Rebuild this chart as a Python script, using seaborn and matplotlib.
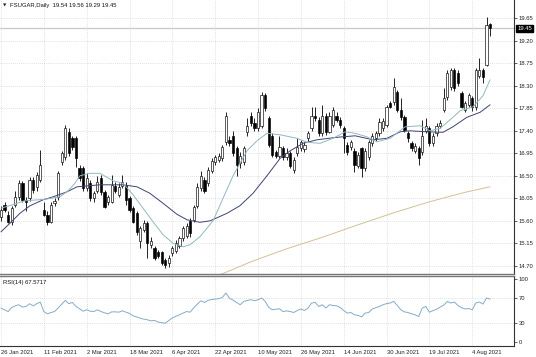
import numpy as np
import pandas as pd
import matplotlib
matplotlib.use('Agg')
import matplotlib.pyplot as plt
import matplotlib.transforms as mtransforms
import seaborn as sns

# header texts
symbol_text = 'FSUGAR,Daily  19.54 19.56 19.29 19.45'
rsi_text = 'RSI(14) 67.5717'
last_price = 19.45

# daily candles, bar 0 = 26 Jan 2021
opens = [15.68, 15.92, 15.72, 15.58, 15.92, 16.07, 16.35, 16.02, 16.05, 16.42,
         16.28, 16.42, 15.82, 15.72, 15.58, 15.95, 16.07, 16.78, 16.87, 17.38,
         17.25, 17.25, 16.65, 16.65, 16.25, 16.35, 16.05, 16.20, 16.45, 16.17,
         15.97, 15.98, 16.30, 16.12, 16.30, 16.32, 16.05, 15.85, 15.75, 15.20,
         15.42, 15.55, 15.12, 15.05, 14.98, 14.97, 14.82, 14.75, 14.95, 15.00,
         15.10, 15.25, 15.30, 15.60, 15.62, 15.90, 16.26, 16.42, 16.35, 16.60,
         16.78, 16.82, 16.85, 17.18, 17.22, 17.30, 17.05, 16.75, 16.78, 17.38,
         17.70, 17.55, 17.45, 17.50, 18.12, 17.65, 17.30, 16.97, 16.90, 17.05,
         16.88, 16.95, 16.62, 16.95, 17.05, 17.03, 17.25, 17.45, 17.70, 17.62,
         17.35, 17.70, 17.38, 17.52, 17.70, 17.62, 17.45, 17.12, 17.08, 17.00,
         16.70, 17.05, 16.65, 16.88, 17.15, 17.25, 17.35, 17.45, 17.52, 17.95,
         17.97, 18.17, 17.82, 17.68, 17.35, 17.15, 17.00, 17.05, 16.98, 17.40,
         17.45, 17.15, 17.35, 17.50, 17.82, 18.08, 18.28, 18.62, 18.55, 18.15,
         17.82, 17.92, 18.05, 17.88, 18.50, 18.62, 18.72, 19.54]
highs = [15.90, 15.98, 15.80, 15.90, 16.20, 16.42, 16.40, 16.08, 16.48, 16.48,
         16.57, 17.02, 15.98, 15.80, 15.98, 16.05, 16.60, 17.00, 17.52, 17.45,
         17.30, 17.30, 16.72, 16.70, 16.55, 16.42, 16.20, 16.50, 16.52, 16.22,
         16.12, 16.52, 16.38, 16.35, 16.52, 16.38, 16.10, 15.90, 15.80, 15.50,
         15.62, 15.60, 15.28, 15.10, 15.02, 15.00, 14.85, 14.92, 15.10, 15.22,
         15.30, 15.50, 15.55, 15.65, 15.92, 16.35, 16.60, 16.48, 16.68, 16.85,
         16.92, 16.95, 17.12, 17.78, 17.30, 17.40, 17.10, 16.98, 17.10, 17.65,
         17.78, 17.65, 17.85, 18.18, 18.15, 17.70, 17.35, 17.02, 17.30, 17.10,
         17.05, 17.00, 16.88, 17.25, 17.22, 17.18, 17.40, 17.88, 17.88, 17.68,
         17.92, 17.75, 17.78, 17.88, 17.78, 17.68, 17.50, 17.18, 17.22, 17.05,
         16.98, 17.08, 17.05, 17.22, 17.35, 17.40, 17.65, 17.65, 17.92, 18.00,
         18.45, 18.22, 18.05, 17.72, 17.40, 17.20, 17.15, 17.10, 17.62, 17.65,
         17.50, 17.35, 17.55, 17.62, 18.25, 18.62, 18.65, 18.65, 18.62, 18.20,
         18.00, 18.15, 18.10, 18.65, 18.85, 18.66, 19.68, 19.56]
lows = [15.60, 15.78, 15.55, 15.52, 15.88, 16.02, 15.98, 15.80, 16.00, 16.15,
        16.20, 16.38, 15.70, 15.52, 15.55, 15.90, 16.02, 16.72, 16.82, 16.90,
        17.02, 16.68, 16.40, 16.20, 16.20, 16.00, 15.98, 16.15, 16.12, 15.85,
        15.92, 15.95, 16.15, 16.08, 16.25, 15.92, 15.78, 15.55, 15.32, 15.05,
        15.38, 14.85, 15.05, 14.82, 14.85, 14.72, 14.65, 14.68, 14.90, 14.95,
        15.05, 15.20, 15.25, 15.28, 15.58, 15.85, 16.20, 16.15, 16.30, 16.55,
        16.72, 16.78, 16.80, 17.12, 17.10, 16.90, 16.50, 16.65, 16.72, 17.30,
        17.50, 17.40, 17.40, 17.45, 17.80, 17.08, 16.88, 16.85, 16.85, 16.82,
        16.82, 16.65, 16.55, 16.90, 17.00, 16.98, 17.20, 17.40, 17.60, 17.30,
        17.30, 17.32, 17.35, 17.48, 17.58, 17.45, 16.95, 16.92, 17.02, 16.58,
        16.65, 16.48, 16.60, 16.82, 17.10, 17.20, 17.30, 17.40, 17.48, 17.85,
        17.92, 17.78, 17.62, 17.38, 17.18, 17.00, 16.95, 16.72, 16.92, 17.35,
        17.10, 17.10, 17.30, 17.45, 17.78, 18.02, 18.22, 18.20, 18.30, 17.85,
        17.78, 17.88, 17.80, 17.82, 18.45, 18.35, 18.70, 19.29]
closes = [15.82, 15.82, 15.58, 15.85, 16.07, 16.35, 16.02, 15.98, 16.42, 16.22,
          16.52, 16.72, 15.72, 15.58, 15.92, 16.00, 16.55, 16.95, 17.45, 16.95,
          17.07, 16.85, 16.45, 16.25, 16.45, 16.05, 16.15, 16.38, 16.17, 15.88,
          16.07, 16.32, 16.20, 16.28, 16.38, 16.02, 15.82, 15.58, 15.37, 15.45,
          15.55, 15.15, 15.20, 14.85, 14.90, 14.75, 14.72, 14.85, 15.05, 15.15,
          15.25, 15.45, 15.50, 15.35, 15.88, 16.28, 16.50, 16.20, 16.62, 16.80,
          16.88, 16.90, 17.08, 17.70, 17.15, 16.95, 16.72, 16.90, 17.05, 17.50,
          17.55, 17.45, 17.78, 18.12, 17.85, 17.12, 16.92, 16.90, 17.07, 16.88,
          16.95, 16.70, 16.82, 17.07, 17.17, 17.12, 17.35, 17.70, 17.65, 17.35,
          17.70, 17.38, 17.70, 17.82, 17.62, 17.52, 17.25, 16.98, 17.18, 16.72,
          16.92, 16.65, 17.00, 17.18, 17.30, 17.35, 17.58, 17.60, 17.88, 17.88,
          18.27, 17.82, 17.68, 17.42, 17.25, 17.05, 17.10, 16.85, 17.30, 17.50,
          17.15, 17.30, 17.50, 17.55, 18.05, 18.55, 18.62, 18.25, 18.35, 17.88,
          17.95, 18.12, 17.88, 18.62, 18.62, 18.48, 19.52, 19.45]

# moving averages, read at sample bars
fast_ma_bar = [0, 6.7, 12.3, 16.5, 18.8, 20.7, 22.1, 24.9, 27.7, 31.4, 34.2, 37, 39.8,
               42.6, 45.4, 48.2, 51, 52.9, 55.7, 59.4, 62.2, 65, 68.9, 71.7, 74.5,
               78.2, 82.9, 85.7, 89.4, 93, 96.4, 99.2, 102.5, 105.3, 109, 113.2,
               117.4, 120.2, 123, 125.8, 128.6, 132.2, 135, 137]
fast_ma_val = [15.85, 16.0, 16.03, 16.08, 16.2, 16.35, 16.5, 16.55, 16.55, 16.4, 16.35,
               16.12, 15.85, 15.58, 15.32, 15.15, 15.08, 15.12, 15.28, 15.6, 16.05,
               16.5, 17.0, 17.2, 17.35, 17.32, 17.25, 17.17, 17.15, 17.25, 17.38,
               17.35, 17.28, 17.18, 17.25, 17.48, 17.5, 17.4, 17.45, 17.62, 17.8,
               17.88, 18.1, 18.42]
slow_ma_bar = [0, 2.5, 5.3, 8.1, 11.8, 14.6, 18.5, 21.3, 27.7, 34.2, 38.1, 41.7, 45.4,
               49.3, 52.1, 55.7, 58.6, 63.3, 66.9, 70.6, 74.5, 78.2, 81, 84.6, 88.5,
               94.1, 99.2, 104.2, 108.1, 111.8, 114.6, 119.3, 123.8, 126.6, 130.5,
               134.2, 137]
slow_ma_val = [15.38, 15.55, 15.75, 15.9, 16.02, 16.08, 16.18, 16.28, 16.32, 16.32,
               16.28, 16.15, 15.95, 15.73, 15.62, 15.57, 15.6, 15.75, 15.9, 16.15,
               16.5, 16.85, 17.0, 17.15, 17.22, 17.27, 17.3, 17.22, 17.25, 17.38,
               17.4, 17.38, 17.37, 17.48, 17.67, 17.77, 17.92]
ma200_bar = [58, 60, 70, 80, 90, 100, 110, 120, 130, 137]
ma200_val = [14.36, 14.48, 14.78, 15.04, 15.27, 15.52, 15.76, 15.98, 16.17, 16.28]

rsi_vals = [53.5, 50.8, 48.0, 54.5, 57.0, 58.7, 55.0, 56.0, 60.3, 57.0,
            60.3, 63.0, 48.0, 44.4, 46.5, 48.0, 53.5, 59.5, 65.6, 60.3,
            62.4, 56.0, 52.5, 48.5, 50.8, 48.5, 48.0, 50.8, 48.0, 46.0,
            44.4, 47.5, 47.5, 47.0, 49.2, 47.0, 45.0, 41.3, 39.5, 37.5,
            36.0, 35.0, 33.3, 34.0, 31.5, 30.5, 29.6, 33.8, 38.0, 40.5,
            43.0, 45.5, 48.0, 47.0, 54.0, 59.8, 65.0, 62.4, 65.6, 67.0,
            67.7, 68.3, 70.0, 77.3, 69.0, 66.0, 62.4, 58.7, 64.0, 65.5,
            66.7, 65.0, 66.5, 69.4, 64.0, 54.5, 51.0, 51.5, 52.4, 48.0,
            49.0, 48.0, 46.5, 49.7, 52.0, 49.7, 53.5, 61.4, 62.4, 56.0,
            58.7, 53.5, 58.7, 57.5, 57.0, 54.5, 49.7, 45.5, 46.5, 42.9,
            42.0, 39.5, 45.5, 46.5, 52.0, 54.0, 56.0, 58.7, 60.5, 61.4,
            64.0, 57.6, 50.8, 47.5, 46.5, 44.4, 42.9, 40.2, 53.5, 56.0,
            47.0, 49.5, 51.5, 55.0, 58.0, 64.0, 61.4, 63.0, 57.6, 54.0,
            52.0, 52.9, 50.8, 61.4, 63.0, 59.8, 69.4, 67.57]

date_bars = [0, 12, 24, 36, 48, 60, 72, 84, 96, 108, 120, 132]
date_labels = ['26 Jan 2021', '11 Feb 2021', '2 Mar 2021', '18 Mar 2021', '6 Apr 2021',
               '22 Apr 2021', '10 May 2021', '26 May 2021', '14 Jun 2021', '30 Jun 2021',
               '19 Jul 2021', '4 Aug 2021']
price_ticks = [14.70, 15.15, 15.60, 16.05, 16.50, 16.95, 17.40, 17.85, 18.30, 18.75, 19.20, 19.65]
rsi_ticks = [0, 30, 70, 100]
rsi_levels = [30, 70]

sns.set_style('white')
plt.rcParams['font.family'] = ['Liberation Sans', 'DejaVu Sans']
FS = 4.2
GRID = dict(color='#c4c4c4', lw=0.5, linestyle=(0, (1, 2)), zorder=0)

df = pd.DataFrame({'open': opens, 'high': highs, 'low': lows, 'close': closes})
df['bar'] = np.arange(len(df))
up = df['close'] >= df['open']

fig = plt.figure(figsize=(5.36, 3.57), dpi=100)
W, H = 536.0, 357.0
ax = fig.add_axes([0, 1 - 274 / H, 514 / W, 274 / H])
ax_rsi = fig.add_axes([0, 1 - 346 / H, 514 / W, 70.5 / H])

xlim = (-0.28, 143.7)

# ---- price panel
for b in date_bars:
    ax.axvline(b, **GRID)
for p in price_ticks:
    ax.axhline(p, **GRID)
ax.axhline(last_price, color='#c8c8c8', lw=0.9, zorder=1)

ax.vlines(df['bar'], df['low'], df['high'], color='black', lw=0.6, zorder=3)
body_bottom = df[['open', 'close']].min(axis=1)
body_h = (df['close'] - df['open']).abs().clip(lower=0.012)
ax.bar(df['bar'][up], body_h[up], bottom=body_bottom[up], width=0.62,
       color='white', edgecolor='black', linewidth=0.45, zorder=4)
ax.bar(df['bar'][~up], body_h[~up], bottom=body_bottom[~up], width=0.62,
       color='black', edgecolor='black', linewidth=0.45, zorder=4)

sns.lineplot(x=ma200_bar, y=ma200_val, ax=ax, color='#d6bf98', lw=0.7, zorder=2)
sns.lineplot(x=slow_ma_bar, y=slow_ma_val, ax=ax, color='#3d4275', lw=0.7, zorder=5)
sns.lineplot(x=fast_ma_bar, y=fast_ma_val, ax=ax, color='#93b8c0', lw=0.7, zorder=5)

ax.set_xlim(*xlim)
ax.set_ylim(14.536, 20.016)
ax.set_xticks([])
ax.yaxis.tick_right()
ax.set_yticks(price_ticks)
ax.set_yticklabels(['%.2f' % p for p in price_ticks])
ax.tick_params(axis='y', labelsize=FS, length=2, width=0.5, pad=1.5, colors='#222222')
ax.set_xlabel('')
ax.set_ylabel('')
for s in ['top', 'left']:
    ax.spines[s].set_visible(False)
ax.spines['right'].set_color('#333333')
ax.spines['right'].set_linewidth(0.8)
ax.spines['bottom'].set_color('#777777')
ax.spines['bottom'].set_linewidth(1.0)

trans = mtransforms.blended_transform_factory(ax.transAxes, ax.transData)
ax.text(1.006, last_price, '%.2f' % last_price, transform=trans, fontsize=FS,
        color='white', va='center', ha='left',
        bbox=dict(facecolor='black', edgecolor='black', pad=0.8), zorder=10)

fig.text(3 / W, 1 - 5.5 / H, '\u25bc', fontsize=3.2, va='center', ha='left',
         family=['DejaVu Sans'])
fig.text(10 / W, 1 - 5.5 / H, symbol_text, fontsize=FS, va='center', ha='left',
         color='#111111')

# ---- RSI panel
for b in date_bars:
    ax_rsi.axvline(b, **GRID)
for lv in rsi_levels:
    ax_rsi.axhline(lv, **GRID)
sns.lineplot(x=np.arange(len(rsi_vals)), y=rsi_vals, ax=ax_rsi, color='#86abc8', lw=0.7)
ax_rsi.set_xlim(*xlim)
ax_rsi.set_ylim(-6.3, 104.8)
ax_rsi.yaxis.tick_right()
ax_rsi.set_yticks(rsi_ticks)
ax_rsi.set_yticklabels([str(t) for t in rsi_ticks])
ax_rsi.set_xticks(date_bars)
ax_rsi.set_xticklabels(date_labels, ha='left')
ax_rsi.tick_params(axis='y', labelsize=FS, length=2, width=0.5, pad=1.5, colors='#222222')
ax_rsi.tick_params(axis='x', labelsize=FS, length=2, width=0.5, pad=1.2, colors='#222222')
ax_rsi.set_xlabel('')
ax_rsi.set_ylabel('')
ax_rsi.spines['left'].set_visible(False)
ax_rsi.spines['top'].set_color('#777777')
ax_rsi.spines['top'].set_linewidth(1.0)
ax_rsi.spines['right'].set_color('#333333')
ax_rsi.spines['right'].set_linewidth(0.8)
ax_rsi.spines['bottom'].set_color('#333333')
ax_rsi.spines['bottom'].set_linewidth(0.8)
ax_rsi.text(3 / 514, 1 - 4 / 70, rsi_text, transform=ax_rsi.transAxes, fontsize=FS,
            va='top', ha='left', color='#111111')

fig.savefig('out.png', dpi=100)
